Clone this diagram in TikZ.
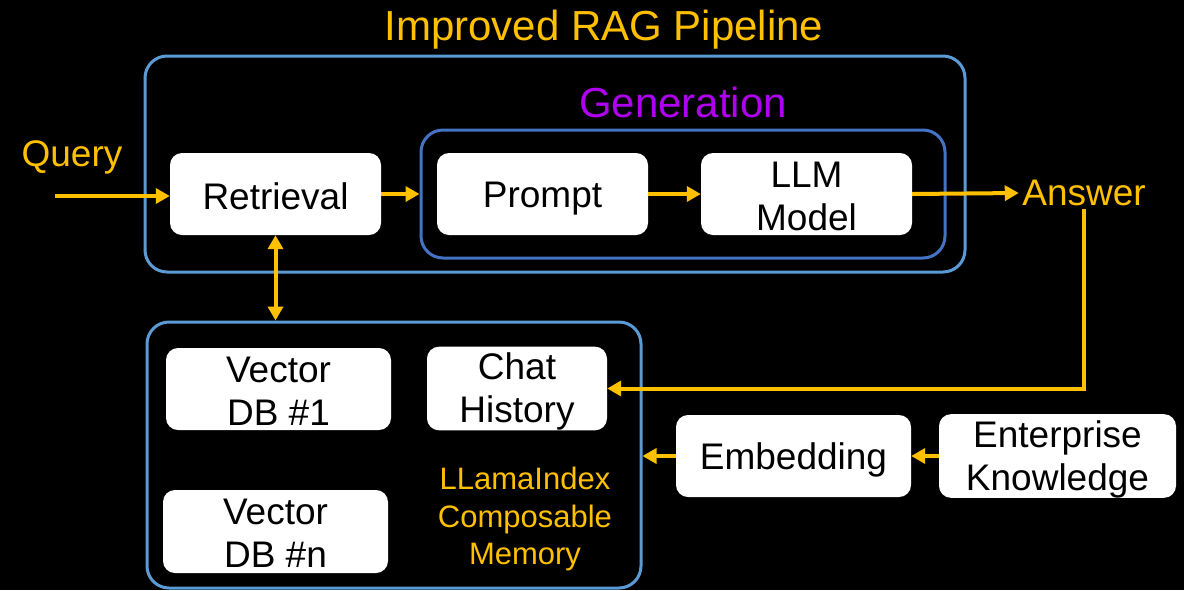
\documentclass[tikz,border=0pt]{standalone}
\usepackage{fontspec}
\setmainfont{Liberation Sans}
\usetikzlibrary{arrows.meta}
\definecolor{ragorange}{HTML}{FFC000}
\definecolor{ragblue}{HTML}{5B9BD5}
\definecolor{genblue}{HTML}{4472C4}
\definecolor{genpurple}{HTML}{B000F0}
% line box of the font, so every line sits the same way in its block
\newcommand{\boxstrut}{\rule[-0.1em]{0pt}{1.057em}}
% first line of a two line block
\newcommand{\topstrut}{\rule{0pt}{33pt}}

\tikzset{
    blk/.style = {fill=white, rounded corners=12pt, inner sep=0pt,
        minimum width=211pt, minimum height=82pt, align=center,
        font=\fontsize{37}{43}\selectfont,
        execute at begin node=\boxstrut, execute at end node=\boxstrut},
    frame/.style = {draw=ragblue, line width=3pt, rounded corners=22pt},
    flow/.style = {draw=ragorange, line width=4pt,
        -{Triangle[length=14pt, width=15pt]}},
    bothflow/.style = {flow, {Triangle[length=14pt, width=15pt]}-{Triangle[length=14pt, width=15pt]}},
    orangetxt/.style = {text=ragorange, font=\fontsize{37}{43}\selectfont}
}

\begin{document}
\begin{tikzpicture}[x=1pt, y=-1pt]
    % black page, 1184 x 590 (units of pixels)
    \fill[black] (0,0) rectangle (1184,590);
    \useasboundingbox (0,0) rectangle (1184,590);

    % frames
    \node[frame, minimum width=820pt, minimum height=216pt] (pipe) at (555,164) {};
    \node[frame, draw=genblue, minimum width=524pt, minimum height=128pt] (gen) at (683,194) {};
    \node[frame, minimum width=494pt, minimum height=266pt] (mem) at (394,455) {};

    % labels
    \node[text=ragorange, font=\fontsize{42}{48}\selectfont] (title) at (604,30) {Improved RAG Pipeline};
    \node[text=genpurple, font=\fontsize{42}{48}\selectfont] (genlbl) at (683,102) {Generation};
    \node[orangetxt] (qry) at (72,157) {Query};
    \node[orangetxt] (ans) at (1084,193) {Answer};
    \node[text=ragorange, align=center, font=\fontsize{31}{37.5}\selectfont] (lbl) at (525,519)
        {LLamaIndex\\Composable\\Memory};

    % pipeline blocks
    \node[blk] (ret) at (275.5,194) {Retrieval};
    \node[blk] (prm) at (542.5,194) {Prompt};
    \node[blk] (llm) at (806.5,194) {\topstrut LLM\\Model};

    % memory blocks
    \node[blk, minimum width=225pt] (vdb1) at (278.5,389) {\topstrut Vector\\DB \#1};
    \node[blk, minimum width=180pt, minimum height=83pt] (chat) at (517,388.5) {\topstrut Chat\\History};
    \node[blk, minimum width=225pt, minimum height=83pt] (vdbn) at (275.5,531.5) {\topstrut Vector\\DB \#n};

    % knowledge ingest
    \node[blk, minimum width=235pt] (emb) at (793.5,456) {Embedding};
    \node[blk, minimum width=237pt] (ent) at (1057.5,456) {\topstrut Enterprise\\Knowledge};

    % connectors
    \coordinate (qin) at (55,196);
    \draw[flow] (qin) -- (ret.west |- qin);
    \draw[flow] (ret.east) -- (ret.east -| gen.west);
    \draw[flow] (prm) -- (llm);
    \draw[flow] (llm.east) -- (ans.west);
    \draw[flow] (ans.south) |- (chat.east);
    \draw[bothflow] (ret.south) -- (ret.south |- mem.north);
    \draw[flow] (ent) -- (emb);
    \draw[flow] (emb.west) -- (emb.west -| mem.east);
\end{tikzpicture}
\end{document}
